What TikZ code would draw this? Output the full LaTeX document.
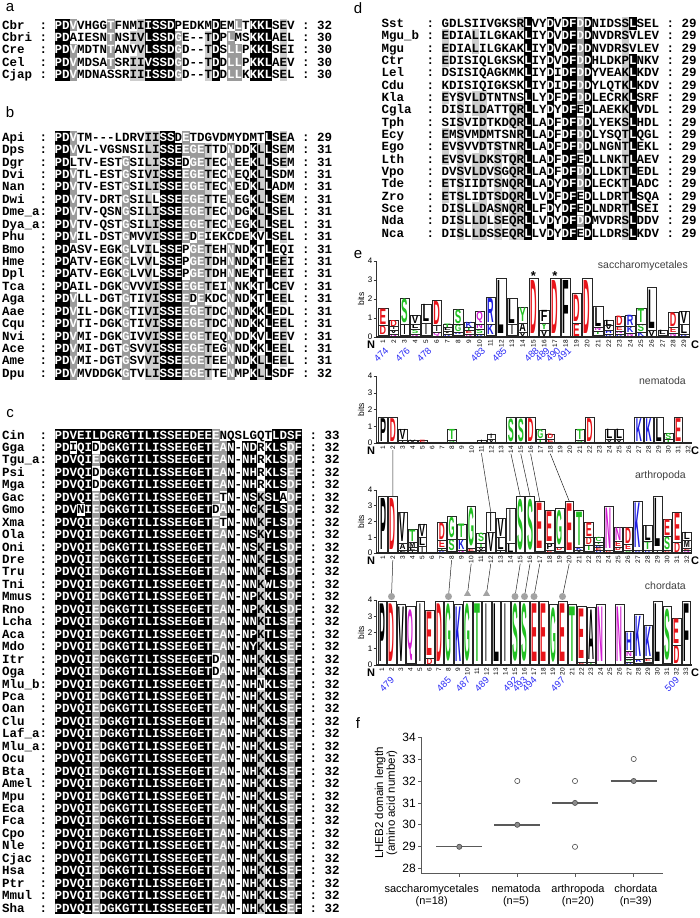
\documentclass[tikz,border=0pt]{standalone}
\usepackage{fontspec}
\setmainfont{Liberation Sans}
\newfontfamily\seqfont{Liberation Mono}
\usepackage{graphicx}
\usetikzlibrary{positioning,shapes.geometric}

\definecolor{alngrey}{HTML}{9A9A9A}
\definecolor{alnlight}{HTML}{CDCDCD}
\definecolor{logored}{HTML}{E8141A}
\definecolor{logogreen}{HTML}{22C022}
\definecolor{logoblue}{HTML}{1C1CE0}
\definecolor{logomag}{HTML}{D21CD2}
\definecolor{posblue}{HTML}{2A2AF5}
\definecolor{markgrey}{HTML}{A3A3A3}

% letter colours of the logos
\def\lcD{logored}\def\lcE{logored}
\def\lcS{logogreen}\def\lcT{logogreen}\def\lcG{logogreen}\def\lcY{logogreen}\def\lcC{logogreen}
\def\lcK{logoblue}\def\lcR{logoblue}\def\lcH{logoblue}
\def\lcN{logomag}\def\lcQ{logomag}
\def\lcA{black}\def\lcV{black}\def\lcL{black}\def\lcI{black}\def\lcM{black}
\def\lcF{black}\def\lcP{black}\def\lcW{black}\def\lcX{black}
\def\ltrI{I}

% alignment rows: sequence, consensus and shading are walked in step
\newcount\alni
\newcount\alnrowno
\def\alnadd#1#2{\edef\alntext{\unexpanded\expandafter{\alntext}\noexpand\textcolor{#1}{#2}}}
\def\alncell#1#2#3{%
  \def\alnh{.}%
  \if#1-\else
    \if#2*\def\alnh{#3}\else
      \if#1#2\def\alnh{#3}\fi
    \fi
  \fi
  \pgfmathsetmacro\alncx{\alnsx+\the\alni*\alncw}%
  \if k\alnh
    \fill[black] (\alncx,\alnyy-6.3) rectangle ++(\alncw+0.3,12.6);
    \alnadd{white}{#1}%
  \else\if g\alnh
    \fill[alngrey] (\alncx,\alnyy-6.3) rectangle ++(\alncw+0.3,12.6);
    \alnadd{white}{#1}%
  \else\if l\alnh
    \fill[alnlight] (\alncx,\alnyy-6.3) rectangle ++(\alncw+0.3,12.6);
    \alnadd{black}{#1}%
  \else
    \alnadd{black}{#1}%
  \fi\fi\fi
  \advance\alni by 1\relax}
\def\alnwalk#1#2\relax#3#4\relax#5#6\relax{%
  \alncell{#1}{#3}{#5}%
  \if\relax\detokenize{#2}\relax\else\alnwalk#2\relax#4\relax#6\relax\fi}
\newcommand\alnrowx[6]{%
  \pgfmathsetmacro\alnyy{\alnyone+#1*\alndy}%
  \pgfmathsetmacro\alnsx{\alnxn+\alnsq*\alncw}%
  \alni=0 \def\alntext{}%
  \alnwalk#3\relax#5\relax#6\relax
  \global\advance\alnrowno by 1
  \node[seqtxt] (name\the\alnrowno) at (\alnxn,\alnyy) {#2};
  \node[seqtxt] (colon\the\alnrowno) at ({\alnxn+\alncl*\alncw},\alnyy) {:};
  \node[seqtxt] (seq\the\alnrowno) at (\alnsx,\alnyy) {\alntext};
  \node[seqtxt] (num\the\alnrowno) at ({\alnsx+(\the\alni+1)*\alncw},\alnyy) {:\ #4};
}
\newcommand\alnrow[4]{\edef\alntmp{\noexpand\alnrowx{#1}{\unexpanded{#2}}{#3}{#4}{\alncons}{\alnshade}}\alntmp}

% one sequence logo
\newcommand\logo[7]{%
  \foreach \stk [count=\ci] in {#7}{%
    \pgfmathsetmacro\cx{#2+(\ci-1)*#3}%
    \xdef\lgy{#4}%
    \foreach \lt/\lh [count=\li] in \stk {%
      \pgfmathsetmacro\hp{\lh*#5}%
      \ifdim\hp pt>0.3pt
        \pgfmathsetmacro\ytop{\lgy-\hp}%
        \draw[logobox] ({\cx-#6/2},\lgy) rectangle ({\cx+#6/2},\ytop);
        \ifdim\hp pt>2.2pt
          \edef\ltc{\lt}\edef\lcc{\csname lc\lt\endcsname}%
          \ifx\ltc\ltrI \pgfmathsetmacro\lw{0.2*#6}\else\pgfmathsetmacro\lw{0.68*#6}\fi
          \pgfmathsetmacro\lhh{0.9*\hp}%
          \node[logolet] (#1c\ci l\li) at (\cx,{\lgy-0.05*\hp}) {\resizebox*{\lw pt}{\lhh pt}{\textcolor{\lcc}{\lt}}};
        \fi
        \xdef\lgy{\ytop}%
      \fi
    }%
    \coordinate (#1t\ci) at (\cx,\lgy);
    \node[colnum] (#1n\ci) at (\cx,#4+2.5) {\ci};
  }%
}
\newcommand\logoaxis[4]{%
  \draw[axisln] (376,#2) -- (376,{#2-4*#3});
  \foreach \t in {0,...,4}{%
    \draw[axisln] (373.5,{#2-\t*#3}) -- (376,{#2-\t*#3});
    \node[ticklab] (#1y\t) at (373,{#2-\t*#3}) {\t};
  }
  \draw[baseln] (376,#2) -- (#4,#2);
  \node[bitslab] (#1bits) at (361,{#2-2*#3}) {bits};
  \node[ncterm] (#1N) at (371,#2+8) {N};
  \node[ncterm] (#1C) at (695,#2+8) {C};
}

\begin{document}
\begin{tikzpicture}[x=1pt,y=-1pt,
    seqtxt/.style={font=\seqfont\bfseries\fontsize{\alnfs}{\alnfs}\selectfont,
                   inner sep=0pt, outer sep=0pt, text height=8pt, text depth=0pt, anchor=west},
    panlab/.style={font=\fontsize{15}{15}\selectfont, inner sep=0pt},
    logobox/.style={draw=black!85, line width=0.4pt, fill=white},
    logolet/.style={inner sep=0pt, anchor=south, font=\bfseries},
    colnum/.style={font=\fontsize{6.5}{6.5}\selectfont, rotate=90, anchor=east, inner sep=0.3pt},
    ticklab/.style={font=\fontsize{8}{8}\selectfont, anchor=east, inner sep=0.5pt},
    bitslab/.style={font=\fontsize{8.5}{8.5}\selectfont, rotate=90, inner sep=0pt},
    ncterm/.style={font=\bfseries\fontsize{11}{11}\selectfont, inner sep=0pt},
    axisln/.style={draw=black!80, line width=0.6pt},
    baseln/.style={draw=black!85, line width=1.6pt},
    logotitle/.style={font=\fontsize{10.5}{10.5}\selectfont, text=black!75, anchor=east, inner sep=0pt},
    posnum/.style={font=\fontsize{9.5}{9.5}\selectfont, text=posblue, rotate=45, anchor=east, inner sep=0pt},
    starlab/.style={font=\bfseries\fontsize{13}{13}\selectfont, inner sep=0pt},
    link/.style={draw=black!85, line width=0.5pt},
    dotmark/.style={circle, fill=markgrey, minimum size=7pt, inner sep=0pt},
    trimark/.style={regular polygon, regular polygon sides=3, fill=markgrey, minimum size=8pt, inner sep=0pt},
    faxis/.style={draw=black!65, line width=0.8pt},
    ftick/.style={font=\fontsize{12}{12}\selectfont, anchor=east, inner sep=0pt},
    fcat/.style={font=\fontsize{11}{12.7}\selectfont, align=center, inner sep=0pt},
    ftitle/.style={font=\fontsize{11.5}{10.5}\selectfont, align=center, rotate=90, inner sep=0pt},
    median/.style={draw=black!65, line width=1.3pt},
    dotout/.style={circle, draw=black!70, fill=white, line width=0.6pt, minimum size=5.2pt, inner sep=0pt},
    dotin/.style={circle, draw=black!70, fill=black!45, line width=0.6pt, minimum size=5.2pt, inner sep=0pt}
  ]
\useasboundingbox (0,0) rectangle (700,918);

% ---------- a
\node[panlab] (laba) at (10,8) {a};
\def\alnyone{25}\def\alndy{12.45}\def\alnxn{2}\def\alncw{7.5}\def\alncl{5}\def\alnsq{7}\def\alnfs{12.5}
\def\alncons{PDV****T**I**SSDG***TD*LL*KKL*E*}
\def\alnshade{kkg....g..llkkkkg...lk.gg.kkk.l.}
\alnrow{0}{Cbr}{PDVVHGGTFNMIISSDPEDKMDEMLTKKLSEV}{32}
\alnrow{1}{Cbri}{PDAIESNTNSIVLSSDGE--TDPLMSKKLAEL}{30}
\alnrow{2}{Cre}{PDVMDTNTANVVLSSDGD--TDSLLPKKLSEI}{30}
\alnrow{3}{Cel}{PDVMDSATSRIIVSSDGD--TDDLLPKKLAEV}{30}
\alnrow{4}{Cjap}{PDVMDNASSRIIISSDGD--TDDLLKKKLSEL}{30}

% ---------- b
\node[panlab] (labb) at (10,112) {b};
\def\alnyone{137.3}\def\alndy{12.42}
\def\alncons{PDV******G***ISSEEGET**N**KLL*E*}
\def\alnshade{kkg......g..llkkkgggl..g..klk.l.}
\alnrow{0}{Api}{PDVTM---LDRVIISSDETDGVDMYDMTLSEA}{29}
\alnrow{1}{Dps}{PDVVL-VGSNSILISSEEGETTDNDDKLLSEM}{31}
\alnrow{2}{Dgr}{PDLTV-ESTGSILISSEDGETECNEEKLLSEM}{31}
\alnrow{3}{Dvi}{PDVTL-ESTGSIVISSEEGETECNEQKLLSDM}{31}
\alnrow{4}{Nan}{PDVTV-ESTGSILISSEEGETECNEDKLLADM}{31}
\alnrow{5}{Dwi}{PDVTV-DRTGSILLSSEEGETTENEGKLLSEM}{31}
\alnrow{6}{Dme\_a}{PDVTV-QSNGSILISSEEGETECNDGKLLSEL}{31}
\alnrow{7}{Dya\_a}{PDVTV-QSTGSILISSEEGETECNEGKLLSEL}{31}
\alnrow{8}{Phu}{PDVIL-DSTGMVVISSEEDEIEKCDEKVLSEL}{31}
\alnrow{9}{Bmo}{PDASV-EGKGLVILSSEPGETEHNNDKTLEQI}{31}
\alnrow{10}{Hme}{PDATV-EGKGLVVLSSEPGETDHNNDKTLEEI}{31}
\alnrow{11}{Dpl}{PDATV-EGKGLVVLSSEPGETDHNNEKTLEEI}{31}
\alnrow{12}{Tca}{PDAIL-DGKGVVVISSEEGETEINNKKTLCEV}{31}
\alnrow{13}{Aga}{PDVLL-DGTGTIVISSEEDEKDCNNDKTLEEL}{31}
\alnrow{14}{Aae}{PDVIL-DGKGTIVISSEEGETDCNNDKKLEDL}{31}
\alnrow{15}{Cqu}{PDVTI-DGKGTIVISSEEGETDCNNDKKLEEL}{31}
\alnrow{16}{Nvi}{PDVMI-DGKGIVVISSEEGETEQNDDKVLEEV}{31}
\alnrow{17}{Ace}{PDVMI-DGTGSVVISSEEGETEGNNDKKLEEL}{31}
\alnrow{18}{Ame}{PDVMI-DGTGSVVISSEEGETEENNDKLLEEL}{31}
\alnrow{19}{Dpu}{PDVMVDDGKGTVLISSEEGETTENMPKLLSDF}{32}

% ---------- c
\node[panlab] (labc) at (10,414) {c};
\def\alnyone{435}\def\alndy{12.45}
\def\alncons{PDVQIEDGKGTILISSEEGETEAN*N*K*LS*F}
\def\alnshade{kkkkkgkkkkkkkkkkkkkkkggk.kklkkkgk}
\alnrowx{0}{Cin}{PDVEILDGRGTILISSEEDEEENQSLGQTLDSF}{33}{*********************************}{kkkkkkkkkkkkkkkkkkkkkg.......kkkk}
\alnrow{1}{Gga}{PDIQIDDGKGTILISSEEGETEAN-NDRKLSDF}{32}
\alnrow{2}{Tgu\_a}{PDVQIEDGKGTILISSEEGETEAN-NHRKLSDF}{32}
\alnrow{3}{Psi}{PDVQIDDGKGTILISSEEGETEAN-NHRKLSEF}{32}
\alnrow{4}{Mga}{PDVQIDDGKGTILISSEEGETEAN-NHRKLSDF}{32}
\alnrow{5}{Gac}{PDVQIEDGKGTILISSEEGETETN-NSKSLADF}{32}
\alnrow{6}{Gmo}{PDVNIEDGKGTILISSEEGETDAN-NGKFLSDF}{32}
\alnrow{7}{Xma}{PDVQIEDGKGTILISSEEGETETN-NNKFLSDF}{32}
\alnrow{8}{Ola}{PDVQIEDGKGTILISSEEGETEAN-NSKYLSDF}{32}
\alnrow{9}{Oni}{PDVQIEDGKGTILISSEEGETEAN-NSKFLSDF}{32}
\alnrow{10}{Dre}{PDVQIEDGKGTILISSEEGETEAN-NNKFLSDF}{32}
\alnrow{11}{Tru}{PDVQIEDGKGTILISSEEGETEAN-NNKFLSDF}{32}
\alnrow{12}{Tni}{PDVQIEDGKGTILISSEEGETEAN-NNKWLSDF}{32}
\alnrow{13}{Mmus}{PDVQIEDGKGTILISSEEGETEAN-NPKKLSDF}{32}
\alnrow{14}{Rno}{PDVQIEDGKGTILISSEEGETEAN-NPKKLSDF}{32}
\alnrow{15}{Lcha}{PDVQIEDGKGTILISSEEGETEAN-NNKILSEF}{32}
\alnrow{16}{Aca}{PDVQIEDGKGTILISSEEGETEAN-NPKTLSEF}{32}
\alnrow{17}{Mdo}{PDVQIEDGKGTILISSEEGETEAN-NYKKLSEF}{32}
\alnrow{18}{Itr}{PDVQIEDGKGTILISSEEGETDAN-NHKKLSEF}{32}
\alnrow{19}{Oga}{PDVQIEDGKGTILISSEEGETDAN-NHKKLSEF}{32}
\alnrow{20}{Mlu\_b}{PDVQIEDGKGTILISSEEGETEAN-NHNKLSEF}{32}
\foreach \nm [count=\ri from 21] in {Pca,Oan,Clu,Laf\_a,Mlu\_a,Ocu,Bta,Amel,Mpu,Eca,Fca,Cpo,Nle,Cjac,Hsa,Ptr,Mmul,Sha}{%
  \alnrow{\ri}{\nm}{PDVQIEDGKGTILISSEEGETEAN-NHKKLSEF}{32}}

% ---------- d
\node[panlab] (labd) at (358,8) {d};
\def\alnyone{23.3}\def\alndy{12.35}\def\alnxn{381.5}\def\alncw{7.5}\def\alncl{6}\def\alnsq{8}\def\alnfs{12.5}
\def\alncons{E*S*LD*S*QRL**D*DFDD*****L***}
\def\alnshade{l.l.ll.l.llk..k.kkgk....lk...}
\alnrow{0}{Sst}{GDLSIIVGKSRLVYDVDFDDNIDSSLSEL}{29}
\alnrow{1}{Mgu\_b}{EDIALILGKAKLIYDVDFDDNVDRSVLEV}{29}
\alnrow{2}{Mgu}{EDIALILGKAKLIYDVDFDDNVDRSVLEV}{29}
\alnrow{3}{Ctr}{EDISIQLGKSKLIYDVDFDDHLDKPLNKV}{29}
\alnrow{4}{Lel}{DSISIQAGKMKLIYDIDFDDYVEAKLKDV}{29}
\alnrow{5}{Cdu}{KDISIQIGKSKLIYDIDFDDYLQTKLKDV}{29}
\alnrow{6}{Kla}{EYSVLDTNTNSLLYDFDFDDLECRKLSRF}{29}
\alnrow{7}{Cgla}{DISILDATTQRLLYDYDFEDLAEKKLVDL}{29}
\alnrow{8}{Tph}{SISVIDTKDQRLLADFDFDDLYEKSLHDL}{29}
\alnrow{9}{Ecy}{EMSVMDMTSNRLLADFDFDDLYSQTLQGL}{29}
\alnrow{10}{Ego}{EVSVVDTSTNRLLADFDFDDLNGNTLEKL}{29}
\alnrow{11}{Lth}{EVSVLDKSTQRLLADFDFEDLLNKTLAEV}{29}
\alnrow{12}{Vpo}{DVSVLDVSGQRLLADFDFDDLLDKTLEDL}{29}
\alnrow{13}{Tde}{ETSIIDTSNQRLLADYDFDDLECKTLADC}{29}
\alnrow{14}{Zro}{ETSLIDTSDQRLLVDFDFEDLLDRTLSQA}{29}
\alnrow{15}{Sce}{DISLLDASNQRLLFDYDFEDLNDRTLSEI}{29}
\alnrow{16}{Nda}{DISLLDLSEQRLLVDYDFDDMVDRSLDDV}{29}
\alnrow{17}{Nca}{DISLLDSSEQRLLVDYDFEDLLDRSLKDV}{29}

% ---------- e
\node[panlab] (labe) at (358,255) {e};
\logo{sa}{383}{10.75}{337}{19}{9.6}{{H/0.12,D/0.5,E/0.9},{N/0.15,V/0.2,I/0.2,D/0.35},{N/0.1,I/0.55,S/1.4},
  {N/0.15,S/0.25,L/0.3,V/0.45},{N/0.1,I/0.65,L/1.0},{Q/0.25,I/0.35,D/1.35},{K/0.15,V/0.15,L/0.2,T/0.2},
  {N/0.1,K/0.15,G/0.4,S/0.8},{N/0.15,E/0.2,T/0.15,K/0.3},{K/0.15,S/0.25,N/0.3,Q/0.65},{N/0.1,K/0.6,R/1.4},
  {L/3.1},{V/0.1,I/0.55,L/1.4},{V/0.25,A/0.5,Y/0.8},{D/3.1},{V/0.35,Y/0.4,F/0.65},{D/3.1},{F/3.1},
  {E/0.75,D/1.55},{D/3.1},{H/0.1,T/0.2,N/0.2,L/1.1},{K/0.15,H/0.2,V/0.25,L/0.3},{K/0.15,N/0.15,E/0.25,D/0.55},
  {N/0.2,K/0.35,R/0.6},{K/0.25,S/0.45,T/0.8},{V/0.35,L/2.25},{G/0.1,L/0.25},{N/0.2,E/0.3,D/0.8},{K/0.15,L/0.5,V/0.7}}
\logoaxis{sa}{337}{19}{690}
\node[logotitle] (satitle) at (688,266) {saccharomycetales};
\node[starlab, above=-3pt of sat15] (sastar15) {*};
\node[starlab, above=-3pt of sat17] (sastar17) {*};
\foreach \c/\p in {1/474,3/476,5/478,10/483,12/485,15/488,16/489,17/490,18/491}
  \node[posnum] (sap\p) at ({383+(\c-1)*10.75+4},349) {\p};

\logo{ne}{383}{9.84}{443}{16.7}{8.8}{{P/1.52},{D/1.52},{I/0.15,V/0.67},{V/0.15},{E/0.15},{L/0.03},{L/0.05},
  {S/0.15,T/0.67},{L/0.02},{V/0.05},{I/0.15},{V/0.25,I/0.3},{L/0.02},{S/1.52},{S/1.52},{D/1.52},
  {T/0.2,G/0.6},{E/0.25,D/0.3},{X/0},{X/0},{S/0.15,T/0.67},{D/1.52},{X/0},{V/0.2,L/0.62},{V/0.2,L/0.62},
  {X/0},{K/1.52},{K/1.52},{L/1.52},{T/0.2,S/0.4},{E/1.52},{X/0}}
\logoaxis{ne}{443}{16.7}{692}
\node[logotitle] (netitle) at (686,381) {nematoda};

\logo{ar}{383}{9.8}{553}{15.75}{8.8}{{P/3.6},{D/3.6},{L/0.2,A/0.4,V/2.0},{I/0.15,L/0.2,M/0.35,T/0.8},
  {I/0.45,L/0.55,V/0.85},{X/0},{K/0.15,T/0.15,E/0.5,D/1.15},{K/0.1,S/0.8,G/1.45},{N/0.2,K/0.7,T/0.95},
  {D/0.1,E/0.2,G/2.7},{L/0.15,V/0.2,T/0.3,S/0.6},{V/1.3,I/1.3},{I/0.2,L/0.8,V/1.2},{L/0.6,I/2.24},
  {S/3.6},{S/3.6},{D/0.1,E/3.2},{D/0.2,P/0.4,E/2.1},{E/0.1,D/0.3,G/2.44},{E/3.3},{V/0.15,K/0.2,T/2.35},
  {N/0.1,T/0.4,D/0.5,E/0.95},{H/0.15,E/0.2,K/0.15,T/0.2,C/0.3},{D/0.15,N/2.85},{T/0.1,D/0.3,E/0.35,N/0.88},
  {G/0.2,E/0.35,D/1.08},{R/0.15,K/3.15},{K/0.2,T/0.55,L/1.03},{I/0.2,L/3.4},{D/0.15,S/0.9,E/1.1},
  {D/0.7,E/1.9},{N/0.15,E/0.15,M/0.5,L/0.5}}
\logoaxis{ar}{553}{15.75}{692}
\node[logotitle] (artitle) at (686,476) {arthropoda};

\logo{ch}{382}{9.5}{665}{16.25}{8.6}{{P/3.94},{D/3.94},{V/3.73},{E/0.1,Q/3.49},{I/3.94},{D/0.4,E/2.98},
  {D/3.94},{G/3.94},{K/3.73},{G/3.94},{T/3.94},{I/3.94},{L/3.94},{I/3.94},{S/3.94},{S/3.94},{E/3.94},
  {E/3.94},{G/3.73},{E/3.94},{T/3.73},{D/0.2,E/3.39},{T/0.15,A/3.38},{N/3.73},{X/0},{N/3.73},
  {R/0.2,G/0.15,S/0.15,N/0.35,H/1.2},{S/0.1,R/0.25,K/2.75},{D/0.1,S/0.1,E/0.2,K/2.02},{L/3.94},
  {D/0.1,S/3.5},{D/1.2,E/1.67},{F/3.94}}
\logoaxis{ch}{665}{16.25}{692}
\node[logotitle] (chtitle) at (686,586) {chordata};
\foreach \c/\p in {2/479,8/485,10/487,12/489,15/492,16/493,17/494,20/497,32/509}
  \node[posnum] (chp\p) at ({382+(\c-1)*9.5+1.2},678.5) {\p};

% conserved positions
\foreach \a/\b in {2/2,11/12,14/15,15/16,16/17,18/20}
  \draw[link] (nen\a.west) -- (art\b);
\foreach \c in {2,8,15,16,17,20}
  \node[dotmark, above=0.8pt of cht\c] (chm\c) {};
\foreach \c in {10,12}
  \node[trimark, above=5pt of cht\c] (chm\c) {};
\foreach \c in {2,8,10,12,15,16,17,20}
  \draw[link] (arn\c.west) -- (chm\c);

% ---------- f
\node[panlab] (labf) at (358,723) {f};
\draw[faxis] (421,737.1) -- (421,873.3) -- (663,873.3);
\foreach \v in {28,...,34}{%
  \draw[faxis] (418,{868.7-(\v-28)*21.93}) -- (421,{868.7-(\v-28)*21.93});
  \node[ftick] (fy\v) at (416,{868.7-(\v-28)*21.93}) {\v};
}
\foreach \gx/\lx/\gname/\gn [count=\gi] in {459.3/431.7/saccharomycetales/18,517.3/516/nematoda/5,575/578/arthropoda/20,633.7/635.8/chordata/39}{%
  \draw[faxis] (\gx,873.3) -- (\gx,876.8);
  \node[fcat] (fcat\gi) at (\lx,895.5) {\gname\\(n=\gn)};
}
\node[ftitle] (fytitle) at (386,803) {LHEB2 domain length\\(amino acid number)};
\foreach \gx/\m [count=\gi] in {459.3/29,517.3/30,575/31,633.7/32}
  \draw[median] ({\gx-23},{868.7-(\m-28)*21.93}) -- ({\gx+23},{868.7-(\m-28)*21.93});
\node[dotin] (fs29) at (459.3,846.8) {};
\node[dotin] (fn30) at (517.3,824.8) {};
\node[dotout] (fn32) at (517.3,781.0) {};
\node[dotin] (fa31) at (575,802.9) {};
\node[dotout] (fa32) at (575,781.0) {};
\node[dotout] (fa29) at (575,846.8) {};
\node[dotin] (fc32) at (633.7,781.0) {};
\node[dotout] (fc33) at (633.7,759.0) {};
\end{tikzpicture}
\end{document}
